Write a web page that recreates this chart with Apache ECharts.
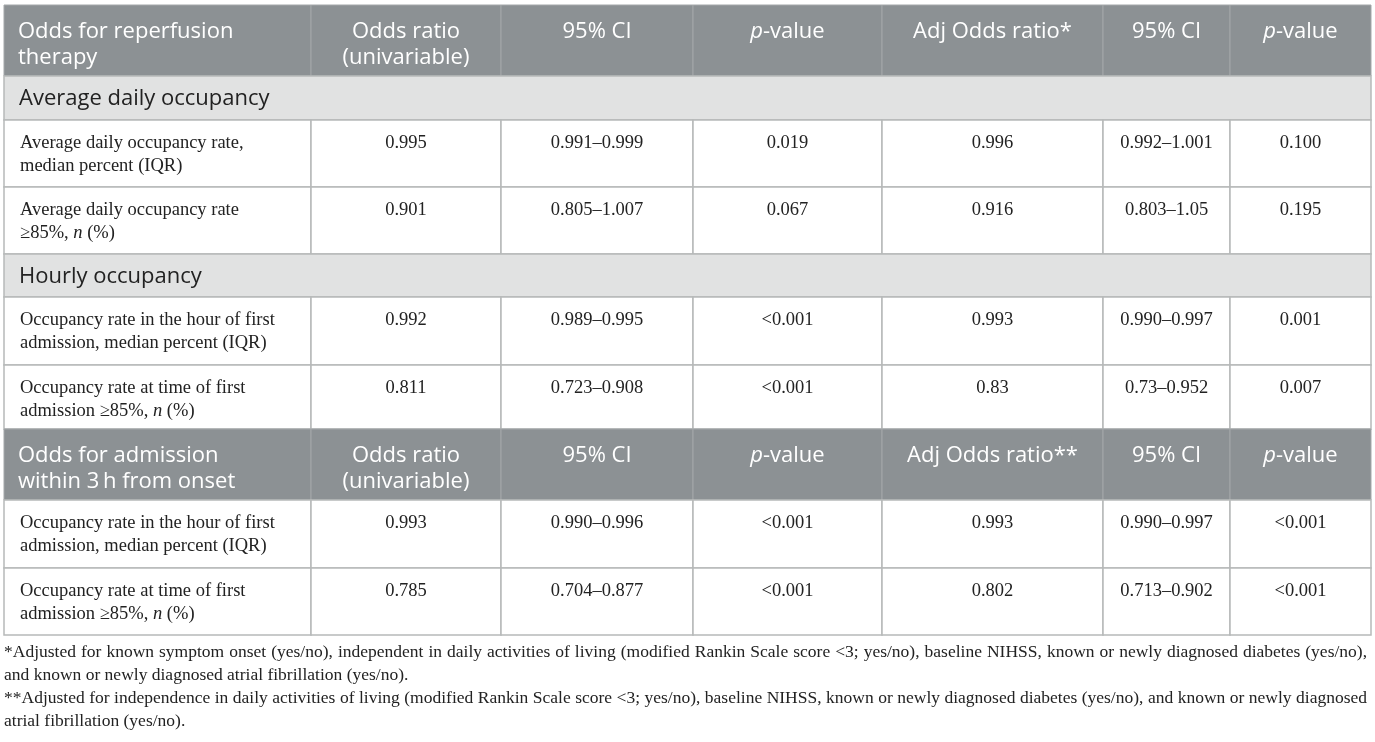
<!DOCTYPE html>
<html>
<head>
<meta charset="utf-8">
<script src="https://cdn.jsdelivr.net/npm/echarts@6/dist/echarts.min.js"></script>
<style>
  html, body { margin: 0; padding: 0; background: #fff; }
  #main { width: 1375px; height: 742px; }
</style>
</head>
<body>
<div id="main"></div>
<script>
// ---- data ----
const headReperfusion = ['Odds for reperfusion\ntherapy', 'Odds ratio\n(univariable)', '95% CI', '{i|p}-value', 'Adj Odds ratio*', '95% CI', '{i|p}-value'];
const headAdmission = ['Odds for admission\nwithin 3\u2009h from onset', 'Odds ratio\n(univariable)', '95% CI', '{i|p}-value', 'Adj Odds ratio**', '95% CI', '{i|p}-value'];
const sections = ['Average daily occupancy', 'Hourly occupancy'];
const rowLabels = [
  'Average daily occupancy rate,\nmedian percent (IQR)',
  'Average daily occupancy rate\n\u226585%, {i|n} (%)',
  'Occupancy rate in the hour of first\nadmission, median percent (IQR)',
  'Occupancy rate at time of first\nadmission \u226585%, {i|n} (%)',
  'Occupancy rate in the hour of first\nadmission, median percent (IQR)',
  'Occupancy rate at time of first\nadmission \u226585%, {i|n} (%)'
];
const oddsRatio = ['0.995', '0.901', '0.992', '0.811', '0.993', '0.785'];
const ci95 = ['0.991\u20130.999', '0.805\u20131.007', '0.989\u20130.995', '0.723\u20130.908', '0.990\u20130.996', '0.704\u20130.877'];
const pValue = ['0.019', '0.067', '<0.001', '<0.001', '<0.001', '<0.001'];
const adjOddsRatio = ['0.996', '0.916', '0.993', '0.83', '0.993', '0.802'];
const adjCi95 = ['0.992\u20131.001', '0.803\u20131.05', '0.990\u20130.997', '0.73\u20130.952', '0.990\u20130.997', '0.713\u20130.902'];
const adjPValue = ['0.100', '0.195', '0.001', '0.007', '<0.001', '<0.001'];
const footnotes = [
  ['*Adjusted for known symptom onset (yes/no), independent in daily activities of living (modified Rankin Scale score <3; yes/no), baseline NIHSS, known or newly diagnosed diabetes (yes/no),', true],
  ['and known or newly diagnosed atrial fibrillation (yes/no).', false],
  ['**Adjusted for independence in daily activities of living (modified Rankin Scale score <3; yes/no), baseline NIHSS, known or newly diagnosed diabetes (yes/no), and known or newly diagnosed', true],
  ['atrial fibrillation (yes/no).', false]
];

// ---- layout ----
const colX = [4, 311, 501, 693, 882, 1103, 1230, 1371];
const layout = [
  { kind: 'head', top: 5, bottom: 76, cells: headReperfusion },
  { kind: 'section', top: 76, bottom: 120, text: sections[0] },
  { kind: 'data', top: 120, bottom: 187, row: 0 },
  { kind: 'data', top: 187, bottom: 254, row: 1 },
  { kind: 'section', top: 254, bottom: 297, text: sections[1] },
  { kind: 'data', top: 297, bottom: 365, row: 2 },
  { kind: 'data', top: 365, bottom: 429, row: 3 },
  { kind: 'head', top: 429, bottom: 500, cells: headAdmission },
  { kind: 'data', top: 500, bottom: 568, row: 4 },
  { kind: 'data', top: 568, bottom: 635, row: 5 }
];
const sans = '"Open Sans", "Noto Sans", sans-serif';
const serif = '"Liberation Serif", "DejaVu Serif", serif';
const headBg = '#8c9194';
const sectionBg = '#e1e2e2';
const lineColor = '#b7b9b9';

const elements = [];

layout.forEach(r => {
  const h = r.bottom - r.top;
  if (r.kind === 'section') {
    elements.push({ type: 'rect', shape: { x: colX[0], y: r.top, width: colX[7] - colX[0], height: h },
      style: { fill: sectionBg, stroke: lineColor, lineWidth: 1.5 } });
    elements.push({ type: 'text', x: 19, y: r.top + h / 2 + 1,
      style: { text: r.text, fontFamily: sans, fontSize: 22, fill: '#222', verticalAlign: 'middle' } });
    return;
  }
  for (let c = 0; c < 7; c++) {
    const x0 = colX[c], x1 = colX[c + 1];
    elements.push({ type: 'rect', shape: { x: x0, y: r.top, width: x1 - x0, height: h },
      style: r.kind === 'head'
        ? { fill: headBg, stroke: '#a3a7a9', lineWidth: 1 }
        : { fill: '#fff', stroke: lineColor, lineWidth: 1.5 } });
  }
  for (let c = 0; c < 7; c++) {
    const x0 = colX[c], x1 = colX[c + 1];
    let txt;
    if (r.kind === 'head') {
      txt = r.cells[c];
    } else {
      txt = [rowLabels, oddsRatio, ci95, pValue, adjOddsRatio, adjCi95, adjPValue][c][r.row];
    }
    const first = c === 0;
    elements.push({
      type: 'text',
      x: first ? x0 + (r.kind === 'head' ? 14 : 16) : (x0 + x1) / 2,
      y: r.top + (r.kind === 'head' ? 14 : 12),
      style: r.kind === 'head'
        ? { text: txt, fontFamily: sans, fontSize: 22, lineHeight: 26, fill: '#fff',
            align: first ? 'left' : 'center', verticalAlign: 'top',
            rich: { i: { fontStyle: 'italic', fontFamily: sans, fontSize: 22, fill: '#fff', lineHeight: 26 } } }
        : { text: txt, fontFamily: serif, fontSize: 18.5, lineHeight: 23, fill: '#222',
            align: first ? 'left' : 'center', verticalAlign: 'top',
            rich: { i: { fontStyle: 'italic', fontFamily: serif, fontSize: 18.5, fill: '#222', lineHeight: 23 } } }
    });
  }
});

// footnotes, justified like the source
const noteFont = '17.5px "Liberation Serif"';
const ctx = document.createElement('canvas').getContext('2d');
ctx.font = noteFont;
const noteLeft = 4, noteRight = 1367;
footnotes.forEach(([line, justify], i) => {
  const y = 652 + i * 23;
  if (!justify) {
    elements.push({ type: 'text', x: noteLeft, y: y,
      style: { text: line, font: noteFont, fill: '#222', verticalAlign: 'middle' } });
    return;
  }
  const words = line.split(' ');
  const widths = words.map(w => ctx.measureText(w).width);
  const total = widths.reduce((a, b) => a + b, 0);
  const gap = Math.max(2, (noteRight - noteLeft - total) / (words.length - 1));
  let x = noteLeft;
  words.forEach((w, k) => {
    elements.push({ type: 'text', x: x, y: y,
      style: { text: w, font: noteFont, fill: '#222', verticalAlign: 'middle' } });
    x += widths[k] + gap;
  });
});

const chart = echarts.init(document.getElementById('main'));
chart.setOption({
  animation: false,
  graphic: { elements: elements }
});
</script>
</body>
</html>
